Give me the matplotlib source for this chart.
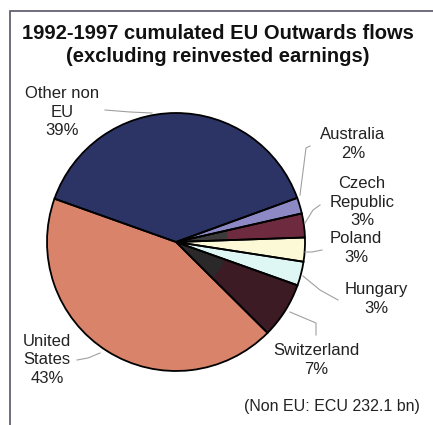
import matplotlib.pyplot as plt
from matplotlib.patches import Rectangle, Wedge

plt.rcParams['font.family'] = ['Liberation Sans', 'DejaVu Sans']

# EU outward FDI, cumulated 1992-1997, share of non-EU total (%)
countries = ['Australia', 'Czech\nRepublic', 'Poland', 'Hungary', 'Switzerland',
             'United\nStates', 'Other non\nEU']
shares = [2, 3, 3, 3, 7, 43, 39]
colours = ['#8c89c4', '#6e2b40', '#fbf9d6', '#def7f4', '#3c1b24', '#d9846a', '#2c3465']

W, H = 433, 425
fig = plt.figure(figsize=(W / 100, H / 100), dpi=100)
ax = fig.add_axes([0, 0, 1, 1])

def py(y):
    # pixel row measured from the top -> data y
    return H - y

# frame around the whole panel
ax.add_patch(Rectangle((10, py(440)), 440, 429, fill=False, ec='#555566', lw=1.2))

cx, cy, r = 176, py(242), 129
wedges, _ = ax.pie(shares, colors=colours, startangle=20, counterclock=False,
                   center=(cx, cy), radius=r, frame=True,
                   wedgeprops=dict(edgecolor='none'))

# darker inner shading of the Czech and Swiss slices
for i, shade in [(1, '#3d3a3c'), (4, '#2a2828')]:
    w = wedges[i]
    ax.add_patch(Wedge((cx, cy), r * 0.4, w.theta1, w.theta2, fc=shade, ec='none'))

# slice outlines on top of everything
for w in wedges:
    ax.add_patch(Wedge((cx, cy), r, w.theta1, w.theta2, fill=False,
                       ec='black', lw=1.3))

ax.set_xlim(0, W)
ax.set_ylim(0, H)
ax.set_aspect('equal')
ax.axis('off')

ax.text(218, py(33), '1992-1997 cumulated EU Outwards flows', ha='center', va='center',
        fontsize=14.5, fontweight='bold', color='#111111')
ax.text(218, py(56), '(excluding reinvested earnings)', ha='center', va='center',
        fontsize=14.5, fontweight='bold', color='#111111')

labels = [f'{c}\n{s}%' for c, s in zip(countries, shares)]
label_pos = [(353, 144), (362, 202), (356, 248), (376, 299), (316, 360), (47, 360), (62, 112)]
leaders = [
    [(310, 146), (306, 148), (300, 195)],
    [(320, 205), (313, 210), (305, 223)],
    [(322, 250), (312, 252), (305, 252)],
    [(338, 300), (320, 290), (303, 276)],
    [(316, 335), (316, 323), (290, 312)],
    [(77, 360), (88, 358), (100, 353)],
    [(105, 110), (130, 112), (152, 113)],
]
for txt, (x, y) in zip(labels, label_pos):
    ax.text(x, py(y), txt, ha='center', va='center', fontsize=12,
            color='#222222', linespacing=1.3)
for pts in leaders:
    ax.plot([p[0] for p in pts], [py(p[1]) for p in pts], color='#a0a0a0', lw=0.8)

ax.text(420, py(407), '(Non EU: ECU 232.1 bn)', ha='right', va='center',
        fontsize=11.5, color='#222222')

fig.savefig('out.png', dpi=100)
